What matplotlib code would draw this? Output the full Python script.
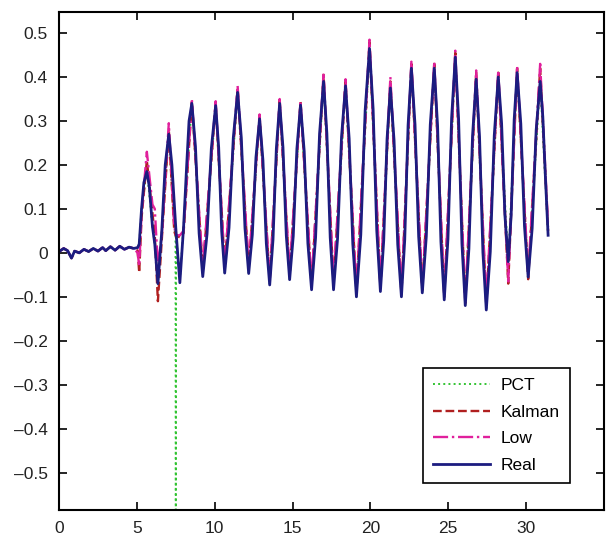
import matplotlib
matplotlib.use("Agg")
import matplotlib.pyplot as plt
from matplotlib.ticker import FuncFormatter

plt.rcParams['font.family'] = ['Liberation Sans', 'DejaVu Sans']

# tiempo (s) de picos / valles (series filtradas)
t_pk = [0.0, 0.3, 0.55, 0.8, 1.0, 1.3, 1.6, 1.9, 2.2, 2.5, 2.8, 3.0, 3.3, 3.6, 3.9,
        4.2, 4.5, 4.8, 5.05,
        5.15, 5.3, 5.64, 6.0, 6.15, 6.35, 6.6, 7.05, 7.4, 7.48, 7.5, 7.52, 7.76, 8.0,
        8.53, 9.23, 10.06, 10.64, 11.47, 12.18, 12.88, 13.53, 14.17, 14.81, 15.51,
        16.22, 16.99, 17.63, 18.40, 19.10, 19.94, 20.64, 21.28, 21.99, 22.63, 23.33,
        24.10, 24.74, 25.45, 26.09, 26.79, 27.44, 28.21, 28.85, 29.42, 30.13, 30.90,
        31.41]

kalman = [0.003, 0.01, 0.005, -0.012, 0.004, 0.0, 0.008, 0.003, 0.01, 0.004, 0.012,
          0.005, 0.014, 0.006, 0.015, 0.008, 0.013, 0.01, 0.005,
          -0.045, 0.08, 0.21, 0.09, 0.04, -0.11, 0.03, 0.28, 0.05, 0.04, 0.04,
          0.04, 0.035, 0.045,
          0.345, -0.04, 0.34, -0.03, 0.375, -0.035, 0.31, -0.065, 0.345, -0.05,
          0.345, -0.075, 0.405, -0.07, 0.39, -0.09, 0.48, -0.08, 0.39, -0.095,
          0.43, -0.085, 0.43, -0.10, 0.455, -0.115, 0.41, -0.12, 0.41, -0.07,
          0.42, -0.06, 0.42, 0.05]

low = [0.003, 0.01, 0.005, -0.012, 0.004, 0.0, 0.008, 0.003, 0.01, 0.004, 0.012,
       0.005, 0.014, 0.006, 0.015, 0.008, 0.013, 0.01, 0.0,
       -0.03, 0.09, 0.23, 0.11, 0.10, -0.03, 0.04, 0.295, 0.06, 0.045, 0.04,
       0.04, 0.04, 0.05,
       0.35, -0.035, 0.345, -0.03, 0.38, -0.03, 0.315, -0.06, 0.35, -0.045,
       0.345, -0.07, 0.41, -0.065, 0.395, -0.085, 0.485, -0.075, 0.40, -0.09,
       0.435, -0.08, 0.435, -0.095, 0.46, -0.11, 0.415, -0.115, 0.415, -0.065,
       0.425, -0.05, 0.43, 0.06]

pct = [0.003, 0.01, 0.005, -0.012, 0.004, 0.0, 0.008, 0.003, 0.01, 0.004, 0.012,
       0.005, 0.014, 0.006, 0.015, 0.008, 0.013, 0.01, 0.012,
       0.02, 0.10, 0.19, 0.06, 0.02, -0.07, 0.05, 0.27, 0.06, 0.04, -0.585,
       0.04, -0.06, 0.06,
       0.34, -0.05, 0.335, -0.045, 0.365, -0.045, 0.305, -0.07, 0.34, -0.06,
       0.336, -0.08, 0.39, -0.08, 0.38, -0.10, 0.465, -0.085, 0.375, -0.10,
       0.42, -0.09, 0.42, -0.105, 0.445, -0.12, 0.395, -0.13, 0.40, -0.02,
       0.41, -0.055, 0.39, 0.04]

# senal real, con mas puntos por ciclo
t_real = [0.0, 0.3, 0.55, 0.8, 1.0, 1.3, 1.6, 1.9, 2.2, 2.5, 2.8, 3.0, 3.3, 3.6,
          3.9, 4.2, 4.5, 4.8, 5.05,
          5.15, 5.3, 5.45, 5.64, 5.8, 6.0, 6.15, 6.35, 6.6, 6.82, 7.05, 7.25, 7.5,
          7.76, 8.0, 8.2, 8.35, 8.53,
          8.763, 8.997, 9.23, 9.507, 9.783, 10.06, 10.253, 10.447, 10.64,
          10.917, 11.193, 11.47, 11.707, 11.943, 12.18, 12.413, 12.647, 12.88,
          13.097, 13.313, 13.53, 13.743, 13.957, 14.17, 14.383, 14.597, 14.81,
          15.043, 15.277, 15.51, 15.747, 15.983, 16.22, 16.477, 16.733, 16.99,
          17.203, 17.417, 17.63, 17.887, 18.143, 18.40, 18.633, 18.867, 19.10,
          19.38, 19.66, 19.94, 20.173, 20.407, 20.64, 20.853, 21.067, 21.28,
          21.517, 21.753, 21.99, 22.203, 22.417, 22.63, 22.863, 23.097, 23.33,
          23.587, 23.843, 24.10, 24.313, 24.527, 24.74, 24.977, 25.213, 25.45,
          25.663, 25.877, 26.09, 26.323, 26.557, 26.79, 27.007, 27.223, 27.44,
          27.697, 27.953, 28.21, 28.423, 28.637, 28.85, 29.04, 29.23, 29.42,
          29.657, 29.893, 30.13, 30.387, 30.643, 30.90, 31.07, 31.24, 31.41]

real = [0.003, 0.01, 0.005, -0.012, 0.004, 0.0, 0.008, 0.003, 0.01, 0.004, 0.012,
        0.005, 0.014, 0.006, 0.015, 0.008, 0.013, 0.01, 0.012,
        0.02, 0.10, 0.16, 0.185, 0.15, 0.06, 0.02, -0.07, 0.05, 0.20, 0.27, 0.20,
        0.056, -0.068, 0.059, 0.20, 0.30, 0.34,
        0.2415, 0.0445, -0.054, 0.043, 0.238, 0.335, 0.240, 0.049, -0.046,
        0.057, 0.262, 0.365, 0.262, 0.056, -0.047, 0.041, 0.217, 0.305,
        0.2105, 0.0215, -0.073, 0.030, 0.237, 0.34, 0.240, 0.039, -0.061,
        0.038, 0.237, 0.336, 0.231, 0.021, -0.084, 0.0345, 0.2715, 0.39,
        0.2715, 0.0345, -0.084, 0.032, 0.264, 0.38, 0.26, 0.02, -0.10,
        0.041, 0.324, 0.465, 0.327, 0.050, -0.088, 0.028, 0.259, 0.375,
        0.256, 0.019, -0.10, 0.03, 0.29, 0.42, 0.292, 0.037, -0.091,
        0.037, 0.292, 0.42, 0.288, 0.025, -0.107, 0.031, 0.307, 0.445,
        0.304, 0.021, -0.12, 0.009, 0.266, 0.395, 0.264, 0.001, -0.13,
        0.0025, 0.2675, 0.40, 0.295, 0.085, -0.02, 0.0875, 0.3025, 0.41,
        0.294, 0.061, -0.055, 0.056, 0.279, 0.39, 0.31, 0.17, 0.04]

x_ticks = [0, 5, 10, 15, 20, 25, 30]
y_ticks = [-0.5, -0.4, -0.3, -0.2, -0.1, 0, 0.1, 0.2, 0.3, 0.4, 0.5]

fig = plt.figure(figsize=(6.06, 5.40), dpi=100)
ax = fig.add_axes([0.0974, 0.0556, 0.8993, 0.9222])

ax.plot(t_pk, pct, color='#33c433', linestyle=':', linewidth=1.4, label='PCT')
ax.plot(t_pk, kalman, color='#b01f1f', linestyle='--', linewidth=1.7, label='Kalman')
ax.plot(t_pk, low, color='#e0209c', linestyle='-.', linewidth=1.7, label='Low')
ax.plot(t_real, real, color='#1c1c80', linestyle='-', linewidth=2.0, label='Real')

ax.set_xlim(0, 35)
ax.set_ylim(-0.585, 0.548)
ax.set_xticks(x_ticks)
ax.set_yticks(y_ticks)
ax.yaxis.set_major_formatter(FuncFormatter(lambda v, p: ('%g' % v).replace('-', '\u2013')))
ax.tick_params(direction='in', length=6, width=1.2, top=True, right=True,
               labelsize=12.5, colors='black', labelcolor='#222222', pad=8)
for s in ax.spines.values():
    s.set_linewidth(1.5)

leg = ax.legend(loc='lower right', bbox_to_anchor=(0.938, 0.054),
                fontsize=12.5, fancybox=False, framealpha=1, edgecolor='black',
                handlelength=3.3, handletextpad=0.6, labelspacing=0.65,
                borderpad=0.6, borderaxespad=0)
leg.get_frame().set_linewidth(1.2)

fig.savefig('out.png', dpi=100)
